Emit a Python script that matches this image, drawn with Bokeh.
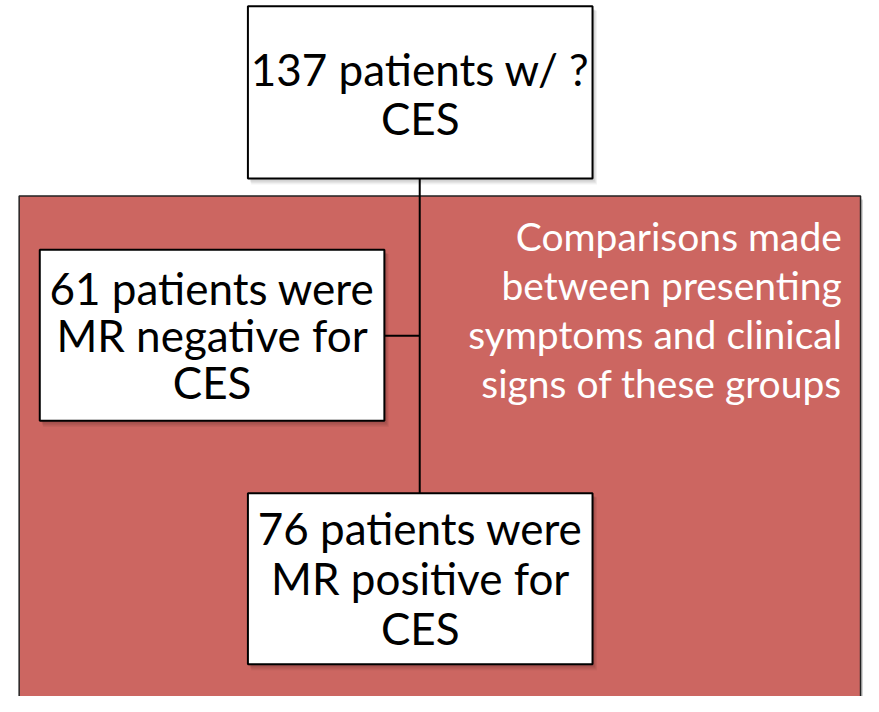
from bokeh.plotting import figure
from bokeh.models import Range1d, ColumnDataSource
from bokeh.core.properties import value
from bokeh.embed import file_html
from bokeh.resources import INLINE

# ---- content ----
top_lines = ["137 patients w/ ?", "CES"]
neg_lines = ["61 patients were", "MR negative for", "CES"]
pos_lines = ["76 patients were", "MR positive for", "CES"]
note_lines = ["Comparisons made", "between presenting", "symptoms and clinical", "signs of these groups"]

# ---- layout: data coordinates are the reference picture's pixel coordinates ----
W, H = 863, 696
p = figure(width=W, height=H, output_backend="svg", toolbar_location=None,
           x_range=Range1d(0, 879), y_range=Range1d(712, 0),
           min_border=0, background_fill_color="white", border_fill_color="white")
p.axis.visible = False
p.grid.visible = False
p.outline_line_color = None

RED = "#CC6661"
FONT = value("Lato")
BOX_FS = "44px"
NOTE_FS = "39px"

def shadow(l, r, t, b, n=6):
    for i in range(1, n + 1):
        p.quad(left=[l + 1 + i * 0.4], right=[r + 1 + i * 0.6], top=[t + 2 + i * 0.4], bottom=[b + 1 + i * 0.9],
               fill_color="black", fill_alpha=0.035, line_color=None)

# big red background panel
shadow(19, 876, 200, 760)
p.quad(left=[19], right=[876], top=[200], bottom=[760], fill_color=RED, line_color="#222222", line_width=1.5)

boxes = {
    "top": (252, 603, 6, 182),
    "neg": (40, 391, 255, 430),
    "pos": (252, 603, 504, 679),
}

# connectors
cx = 427
p.segment(x0=[cx, 391], y0=[182, 343], x1=[cx, cx], y1=[504, 343], line_color="black", line_width=2)

for key, (l, r, t, b) in boxes.items():
    shadow(l, r, t, b)
    p.quad(left=[l], right=[r], top=[t], bottom=[b], fill_color="white", line_color="black", line_width=2)

def put_lines(lines, x, ys, align, color, fs):
    src = ColumnDataSource(dict(x=[x] * len(lines), y=ys, t=lines))
    p.text(x="x", y="y", text="t", source=src, text_align=align, text_baseline="middle",
           text_font=FONT, text_font_size=fs, text_color=color)

put_lines(top_lines, (252 + 603) / 2, [70, 120], "center", "black", BOX_FS)
put_lines(neg_lines, (40 + 391) / 2, [294, 342, 390], "center", "black", BOX_FS)
put_lines(pos_lines, (252 + 603) / 2, [540, 591, 642], "center", "black", BOX_FS)
put_lines(note_lines, 857, [241, 291, 341, 391], "right", "white", NOTE_FS)

open("out.html", "w").write(file_html(p, INLINE))
